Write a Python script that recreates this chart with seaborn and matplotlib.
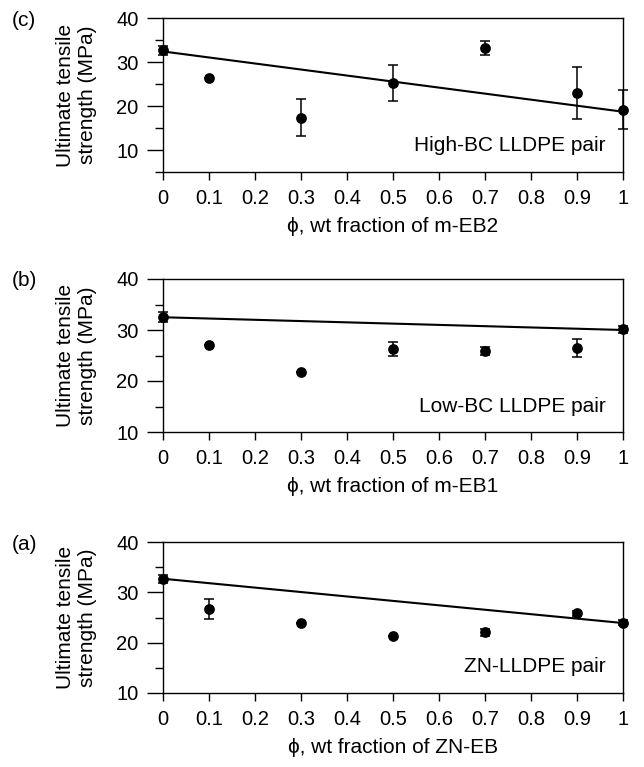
import matplotlib
matplotlib.use("Agg")
import matplotlib.pyplot as plt
import numpy as np
import pandas as pd
import seaborn as sns

# ── Data ──────────────────────────────────────────────────────────────────────
phi = [0.0, 0.1, 0.3, 0.5, 0.7, 0.9, 1.0]

uts_high = [32.7, 26.4, 17.3, 25.2, 33.1, 23.0, 19.2]
err_high = [1.0, 0.0, 4.2, 4.1, 1.6, 5.9, 4.5]
fit_high = [32.4, 18.7]

uts_low = [32.6, 27.0, 21.7, 26.3, 25.9, 26.5, 30.1]
err_low = [1.0, 0.0, 0.0, 1.3, 0.8, 1.7, 0.7]
fit_low = [32.5, 30.0]

uts_zn = [32.7, 26.7, 24.0, 21.3, 22.1, 25.8, 24.0]
err_zn = [0.8, 1.9, 0.0, 0.0, 0.7, 0.5, 0.5]
fit_zn = [32.7, 23.9]

fit_x = [0.0, 1.0]
xtick_vals = [0.0, 0.1, 0.2, 0.3, 0.4, 0.5, 0.6, 0.7, 0.8, 0.9, 1.0]
xtick_labels = ["0", "0.1", "0.2", "0.3", "0.4", "0.5", "0.6", "0.7", "0.8", "0.9", "1"]

panels = [
    # tag, values, errors, fit ends, note, xlabel, ylim
    ("(c)", uts_high, err_high, fit_high, "High-BC LLDPE pair", "\u03d5, wt fraction of m-EB2", (5, 40)),
    ("(b)", uts_low, err_low, fit_low, "Low-BC LLDPE pair", "\u03d5, wt fraction of m-EB1", (10, 40)),
    ("(a)", uts_zn, err_zn, fit_zn, "ZN-LLDPE pair", "\u03d5, wt fraction of ZN-EB", (10, 40)),
]

# ── Style ────────────────────────────────────────────────────────────────────
sns.set_style("ticks")
plt.rcParams["font.family"] = ["Liberation Sans", "DejaVu Sans"]
plt.rcParams["font.size"] = 15
plt.rcParams["text.color"] = "black"
plt.rcParams["axes.labelcolor"] = "black"
plt.rcParams["xtick.color"] = "black"
plt.rcParams["ytick.color"] = "black"

W, H = 644, 767
fig = plt.figure(figsize=(W / 100, H / 100), dpi=100)

left_px, right_px = 163, 623
tops_bottoms = [(18, 172), (279, 432), (542, 693)]
note_y = [0.175, 0.165, 0.174]

for (tag, vals, errs, fit, note, xlabel, ylim), (top, bot), ny in zip(panels, tops_bottoms, note_y):
    ax = fig.add_axes([left_px / W, 1 - bot / H, (right_px - left_px) / W, (bot - top) / H])
    df = pd.DataFrame({"phi": phi, "uts": vals, "err": errs})
    fit_df = pd.DataFrame({"phi": fit_x, "uts": fit})

    sns.lineplot(data=fit_df, x="phi", y="uts", color="black", linewidth=1.5, ax=ax, clip_on=False)
    ax.errorbar(df["phi"], df["uts"], yerr=df["err"], fmt="none", ecolor="black",
                elinewidth=1.1, capsize=3.5, capthick=1.1, clip_on=False, zorder=3)
    sns.scatterplot(data=df, x="phi", y="uts", color="black", s=60, edgecolor="black",
                    linewidth=0, ax=ax, clip_on=False, zorder=4)

    ax.set_xlim(0, 1)
    ax.set_ylim(*ylim)
    ax.set_xticks(xtick_vals)
    ax.set_xticklabels(xtick_labels)
    ax.set_yticks([10, 20, 30, 40])
    minors = [y for y in (5, 15, 25, 35) if ylim[0] <= y <= ylim[1]]
    ax.set_yticks(minors, minor=True)
    ax.tick_params(axis="y", which="major", direction="out", length=11.5, width=1, pad=6, labelsize=14.5)
    ax.tick_params(axis="y", which="minor", direction="out", length=6, width=1)
    ax.tick_params(axis="x", which="major", direction="out", length=6, width=1, pad=6, labelsize=14.5)
    for s in ax.spines.values():
        s.set_linewidth(1)
        s.set_color("black")

    ax.set_xlabel(xlabel, fontsize=15, labelpad=7)
    ax.set_ylabel("Ultimate tensile\nstrength (MPa)", fontsize=15)
    ax.yaxis.set_label_coords(-0.143, 0.5)
    ax.text(0.962, ny, note, transform=ax.transAxes, ha="right", va="center", fontsize=15)
    fig.text(12 / W, 1 - (top + 2) / H, tag, ha="left", va="center", fontsize=15)

fig.savefig("out.png", dpi=100)
